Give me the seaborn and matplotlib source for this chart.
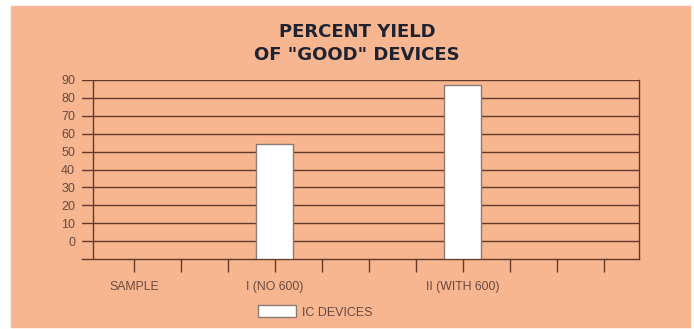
import matplotlib
matplotlib.use("Agg")
import matplotlib.pyplot as plt
import matplotlib.patches as mpatches
import seaborn as sns
import pandas as pd

# data
groups = ["I (NO 600)", "II (WITH 600)"]
group_pos = [3, 7]
yield_pct = [54, 87]
tick_labels = ["SAMPLE", "I (NO 600)", "II (WITH 600)"]
tick_label_pos = [0, 3, 7]
y_ticks = [0, 10, 20, 30, 40, 50, 60, 70, 80, 90]
base = -10  # bars start on the bottom line, one step below the "0" line

SALMON = "#f7b68f"
LINE = "#63392c"
TEXT = "#6a4a40"

sns.set_theme(style="white")
plt.rcParams["font.family"] = ["Liberation Sans", "DejaVu Sans"]

W, H = 694, 329
fig = plt.figure(figsize=(W / 100, H / 100), dpi=100, facecolor="white")

# salmon card behind everything
fig.patches.append(mpatches.Rectangle((11 / W, 1 - 327 / H), 679 / W, 321 / H,
                                      transform=fig.transFigure, color=SALMON, zorder=-10))

ax = fig.add_axes([82 / W, 1 - 259 / H, 557 / W, 179 / H])
ax.set_zorder(5)
ax.patch.set_alpha(0)

df = pd.DataFrame({"group": groups, "pos": group_pos, "yield": yield_pct})
df["height"] = df["yield"] - base
sns.barplot(data=df, x="pos", y="height", native_scale=True, width=0.78 / 4,
            color="white", edgecolor="#8a7a74", linewidth=1.0, saturation=1,
            bottom=base, label="IC DEVICES", legend=False, ax=ax, zorder=3)

ax.set_xlim(-1.1, 10.75)
ax.set_ylim(base, 90)

# gridlines
for v in y_ticks:
    ax.axhline(v, color=LINE, lw=1.0, zorder=1)
ax.axvline(-0.87, color=LINE, lw=1.0, zorder=1)

for s in ["top", "left"]:
    ax.spines[s].set_visible(False)
for s in ["bottom", "right"]:
    ax.spines[s].set_visible(True)
    ax.spines[s].set_color(LINE)
    ax.spines[s].set_linewidth(1.0)

ax.set_yticks(y_ticks)
ax.set_yticklabels([str(v) for v in y_ticks], fontsize=9, color=TEXT)
ax.tick_params(axis="y", length=0, pad=5)

ax.set_xticks(range(0, 11))
ax.set_xticklabels([tick_labels[tick_label_pos.index(i)] if i in tick_label_pos else ""
                    for i in range(0, 11)], fontsize=8.8, color=TEXT)
ax.tick_params(axis="x", direction="out", length=9.5, width=1.0, color=LINE, pad=6,
               bottom=True)
ax.set_xlabel("")
ax.set_ylabel("")

for txt, yy in [("PERCENT YIELD", 32), ('OF "GOOD" DEVICES', 55)]:
    fig.text(357 / W, 1 - yy / H, txt, ha="center", va="center",
             fontsize=13, fontweight="heavy", color="#1f2230", family="DejaVu Sans")

handle = mpatches.Patch(facecolor="white", edgecolor="#8a7a74", linewidth=1.0)
fig.legend([handle], ["IC DEVICES"], loc="center left",
           bbox_to_anchor=(258 / W, 1 - 312 / H), frameon=False, fontsize=9,
           handlelength=3.0, handleheight=1.1, handletextpad=0.5,
           labelcolor=TEXT, borderpad=0, borderaxespad=0)

fig.savefig("out.png", dpi=100, facecolor="white")
